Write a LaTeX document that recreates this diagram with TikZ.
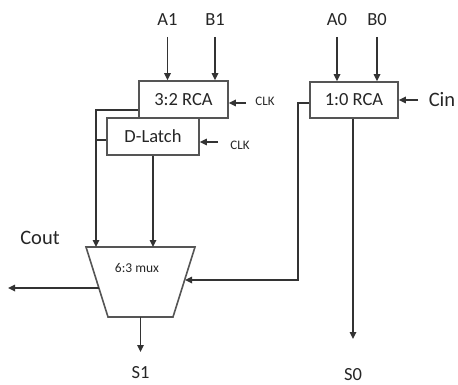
\documentclass[tikz,border=0pt]{standalone}
\usepackage{fontspec}
\setmainfont{Carlito}
\usetikzlibrary{arrows.meta}
\definecolor{wire}{HTML}{333333}
\definecolor{boxc}{HTML}{555555}
\definecolor{txt}{HTML}{262626}
\begin{document}
\begin{tikzpicture}[x=1pt,y=-1pt,
  wireln/.style={draw=wire,line width=1.6pt},
  arr/.style={wireln,-{Triangle[length=7pt,width=6.5pt]}},
  blk/.style={draw=boxc,line width=1.6pt,fill=white,rectangle,inner sep=0pt,font=\fontsize{18.5}{20}\selectfont,text=txt},
  lbl/.style={inner sep=0pt,text=txt,font=\fontsize{18.5}{20}\selectfont},
  big/.style={inner sep=0pt,text=txt,font=\fontsize{20.5}{22}\selectfont},
  small/.style={inner sep=0pt,text=txt,font=\fontsize{13}{14}\selectfont},
  muxlbl/.style={inner sep=0pt,text=txt,font=\fontsize{13.5}{15}\selectfont}]
\useasboundingbox (0,0) rectangle (458,385);

% blocks
\node[blk,minimum width=89pt,minimum height=37pt] (rca32) at (183.5,99.5) {3:2 RCA};
\node[blk,minimum width=92pt,minimum height=37pt] (dl) at (153,136.5) {D-Latch};
\node[blk,minimum width=88pt,minimum height=36pt] (rca10) at (354,100) {1:0 RCA};

% mux trapezium
\coordinate (mtl) at (86,247);
\coordinate (mtr) at (195,247);
\coordinate (mbr) at (173,317);
\coordinate (mbl) at (108,317);
\draw[draw=boxc,line width=1.6pt] (mtl) -- (mtr) -- (mbr) -- (mbl) -- cycle;
\node[muxlbl] (mux) at (137,268) {6:3 mux};
\coordinate (muxin1) at (96,247);
\coordinate (muxout) at (99,288);
\coordinate (muxin3) at (185,280);
\coordinate (muxbot) at (140.5,317);

% labels
\node[lbl] (A1) at (167.5,20) {A1};
\node[lbl] (B1) at (215,20) {B1};
\node[lbl] (A0) at (337,20) {A0};
\node[lbl] (B0) at (377,20) {B0};
\node[small] (clk1) at (265,101) {CLK};
\node[small] (clk2) at (240,145) {CLK};
\node[big] (cin) at (442,100) {Cin};
\node[big] (cout) at (40,238) {Cout};
\node[lbl] (s1) at (140.5,373) {S1};
\node[lbl] (s0) at (353,375) {S0};

% free ends
\coordinate (a1s) at (167.5,37);
\coordinate (b1s) at (215,37);
\coordinate (a0s) at (337,37);
\coordinate (b0s) at (377,37);
\coordinate (clk1s) at (246,103);
\coordinate (clk2s) at (218,142);
\coordinate (cins) at (418,100);
\coordinate (coute) at (8,288);
\coordinate (s1e) at (140.5,352);
\coordinate (s0e) at (353,339);

% input arrows
\draw[arr] (a1s) -- (a1s |- rca32.north);
\draw[arr] (b1s) -- (b1s |- rca32.north);
\draw[arr] (a0s) -- (a0s |- rca10.north);
\draw[arr] (b0s) -- (b0s |- rca10.north);
\draw[arr] (clk1s) -- (clk1s -| rca32.east);
\draw[arr] (clk2s) -- (clk2s -| dl.east);
\draw[arr] (cins) -- (cins -| rca10.east);

% internal wires
\draw[arr] (rca32.west |- 0,110) -- (96,110) -- (muxin1);
\draw[wireln] (dl.west |- 0,140) -- (96,140);
\draw[arr] (dl.south) -- (dl.south |- mtl);
\draw[arr] (rca10.west |- 0,103) -- (298,103) -- (298,280) -- (muxin3);

% outputs
\draw[arr] (muxout) -- (coute);
\draw[arr] (muxbot) -- (s1e);
\draw[arr] (rca10.south -| s0e) -- (s0e);
\end{tikzpicture}
\end{document}
